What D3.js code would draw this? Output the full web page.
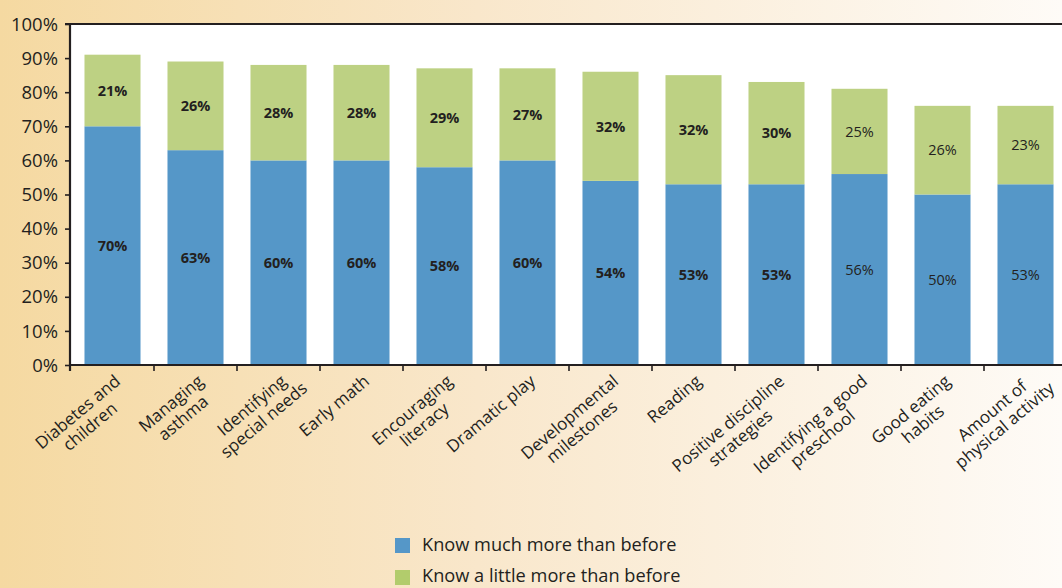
<!DOCTYPE html>
<html>
<head>
<meta charset="utf-8">
<script src="https://cdn.jsdelivr.net/npm/d3@7"></script>
<style>
  html, body { margin: 0; padding: 0; background: #fff; }
  svg { display: block; }
  text { font-family: "Open Sans", "Noto Sans", sans-serif; fill: #231f20; }
</style>
</head>
<body>
<svg id="chart" width="1062" height="588"></svg>
<script>
// Topics (line breaks mark where each axis label wraps)
const categories = [
  "Diabetes and\nchildren",
  "Managing\nasthma",
  "Identifying\nspecial needs",
  "Early math",
  "Encouraging\nliteracy",
  "Dramatic play",
  "Developmental\nmilestones",
  "Reading",
  "Positive discipline\nstrategies",
  "Identifying a good\npreschool",
  "Good eating\nhabits",
  "Amount of\nphysical activity"
];
// Share of respondents (%)
const muchMore   = [70, 63, 60, 60, 58, 60, 54, 53, 53, 56, 50, 53];
const littleMore = [21, 26, 28, 28, 29, 27, 32, 32, 30, 25, 26, 23];
const seriesNames = ["Know much more than before", "Know a little more than before"];
const yTicks = [0, 10, 20, 30, 40, 50, 60, 70, 80, 90, 100];

const W = 1062, H = 588;
const colors = { much: "#5597c8", little: "#bdd183", littleKey: "#b2cc6c", ink: "#231f20" };
const regularLabelFrom = 9; // value labels from this bar on are set in regular weight

const svg = d3.select("#chart");

// warm horizontal background wash
const defs = svg.append("defs");
const grad = defs.append("linearGradient").attr("id", "bg").attr("x1", 0).attr("x2", 1).attr("y1", 0).attr("y2", 0);
grad.append("stop").attr("offset", "0%").attr("stop-color", "#f5d9a1");
grad.append("stop").attr("offset", "45%").attr("stop-color", "#f9e7cb");
grad.append("stop").attr("offset", "100%").attr("stop-color", "#fefbf7");
svg.append("rect").attr("width", W).attr("height", H).attr("fill", "url(#bg)");

const plot = { left: 70, top: 24, right: 1062, bottom: 365 };

const x = d3.scaleBand()
  .domain(categories)
  .range([71, 1067])
  .paddingInner(0.325)
  .paddingOuter(0.1625);

const y = d3.scaleLinear().domain([0, 100]).range([plot.bottom, plot.top]);

// white plotting area
svg.append("rect")
  .attr("x", plot.left).attr("y", plot.top)
  .attr("width", plot.right - plot.left).attr("height", plot.bottom - plot.top)
  .attr("fill", "#fff");

const rows = categories.map((c, i) => ({ cat: c, much: muchMore[i], little: littleMore[i], i }));

// stacked bars
const bars = svg.append("g");
bars.selectAll("rect.much").data(rows).join("rect")
  .attr("class", "much")
  .attr("x", d => x(d.cat)).attr("width", x.bandwidth())
  .attr("y", d => y(d.much)).attr("height", d => y(0) - y(d.much))
  .attr("fill", colors.much);
bars.selectAll("rect.little").data(rows).join("rect")
  .attr("class", "little")
  .attr("x", d => x(d.cat)).attr("width", x.bandwidth())
  .attr("y", d => y(d.much + d.little)).attr("height", d => y(d.much) - y(d.much + d.little))
  .attr("fill", colors.little);

// value labels centred in each segment
const labels = svg.append("g").attr("text-anchor", "middle").style("font-size", "14.5px");
labels.selectAll("text.much").data(rows).join("text")
  .attr("x", d => x(d.cat) + x.bandwidth() / 2)
  .attr("y", d => y(d.much / 2)).attr("dy", "0.36em")
  .style("font-weight", d => d.i >= regularLabelFrom ? 400 : 700)
  .text(d => d.much + "%");
labels.selectAll("text.little").data(rows).join("text")
  .attr("x", d => x(d.cat) + x.bandwidth() / 2)
  .attr("y", d => y(d.much + d.little / 2)).attr("dy", "0.36em")
  .style("font-weight", d => d.i >= regularLabelFrom ? 400 : 700)
  .text(d => d.little + "%");

// y axis
const yAxis = svg.append("g")
  .attr("transform", `translate(${plot.left},0)`)
  .call(d3.axisLeft(y).tickValues(yTicks).tickFormat(d => d + "%").tickSize(5).tickSizeOuter(0));
yAxis.select(".domain").remove();
yAxis.selectAll(".tick line").attr("stroke", colors.ink).attr("stroke-width", 1.6);
yAxis.selectAll(".tick text")
  .attr("x", -12).attr("dy", "0.33em")
  .style("font-size", "18.5px").style("font-family", "'Open Sans', sans-serif").attr("fill", colors.ink);

// frame lines: left, top and baseline
const frame = svg.append("g").attr("stroke", colors.ink).attr("stroke-width", 2.2).attr("fill", "none");
frame.append("line").attr("x1", plot.left).attr("x2", plot.left).attr("y1", plot.top - 1).attr("y2", plot.bottom + 6);
frame.append("line").attr("x1", plot.left - 5).attr("x2", W).attr("y1", plot.top).attr("y2", plot.top);
frame.append("line").attr("x1", plot.left).attr("x2", W).attr("y1", plot.bottom).attr("y2", plot.bottom);

// x ticks on the boundaries between topics
const boundaries = categories.slice(1).map(c => x(c) - x.step() * x.paddingInner() / 2);
svg.append("g").selectAll("line").data(boundaries).join("line")
  .attr("x1", d => d).attr("x2", d => d)
  .attr("y1", plot.bottom).attr("y2", plot.bottom + 6)
  .attr("stroke", colors.ink).attr("stroke-width", 1.6);

// rotated topic labels: first line ends near the bar, lines centred on each other
const angle = -40;
const rad = -angle * Math.PI / 180;
const lineH = 19;
const catG = svg.append("g").style("font-size", "17px");
rows.forEach(d => {
  const lines = d.cat.split("\n");
  const ax = x(d.cat) + x.bandwidth() / 2 + 9, ay = plot.bottom + 18;
  const g = catG.append("g").attr("transform", `translate(${ax},${ay}) rotate(${angle})`);
  const probe = g.append("text").text(lines[0]);
  const w1 = probe.node().getComputedTextLength();
  probe.remove();
  lines.forEach((ln, k) => {
    g.append("text")
      .attr("x", -w1 / 2).attr("y", k * lineH)
      .attr("text-anchor", "middle")
      .text(ln);
  });
  // slide back along the baseline if the label runs past the right edge
  const box = g.node().getBoundingClientRect();
  const over = box.right - (W - 3);
  if (over > 0) {
    const s = over / Math.cos(rad);
    g.attr("transform", `translate(${ax - s * Math.cos(rad)},${ay + s * Math.sin(rad)}) rotate(${angle})`);
  }
});

// legend
const legend = svg.append("g");
const keyColors = [colors.much, colors.littleKey];
const legendRows = [{ box: 538, base: 551 }, { box: 570, base: 582 }];
seriesNames.forEach((name, k) => {
  legend.append("rect").attr("x", 395).attr("y", legendRows[k].box).attr("width", 15).attr("height", 15).attr("fill", keyColors[k]);
  legend.append("text").attr("x", 422).attr("y", legendRows[k].base).style("font-size", "18.2px").text(name);
});
</script>
</body>
</html>
